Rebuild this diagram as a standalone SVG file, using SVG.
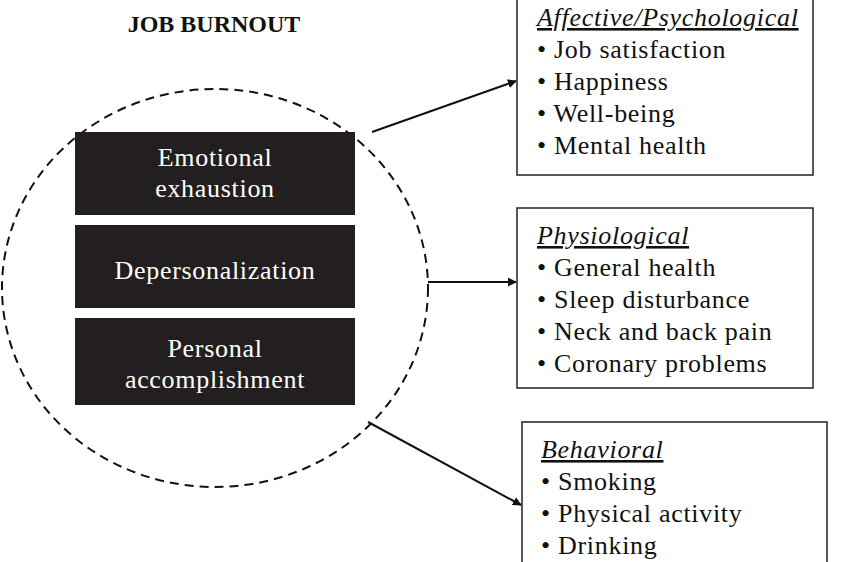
<svg xmlns="http://www.w3.org/2000/svg" width="850" height="562" viewBox="0 0 850 562">
<defs>
<style>
.t{font-family:"Liberation Serif","DejaVu Serif",serif;font-size:26px;letter-spacing:0.7px;fill:#111}
.w{font-family:"Liberation Serif","DejaVu Serif",serif;font-size:26px;letter-spacing:0.7px;fill:#fff;text-anchor:middle}
.h{font-style:italic;text-decoration:underline}
.box{fill:#fff;stroke:#222;stroke-width:1.5}
.blk{fill:#231f20}
.c{stroke:#111;stroke-width:2;fill:none;marker-end:url(#a)}
</style>
<marker id="a" viewBox="0 0 10 10" refX="9" refY="5" markerWidth="9" markerHeight="9" markerUnits="userSpaceOnUse" orient="auto"><path d="M0,0L10,5L0,10z" fill="#111"/></marker>
</defs>
<rect width="850" height="562" fill="#fff"/>
<g id="burnout">
<text x="214" y="32" style="font-family:'Liberation Serif',serif;font-size:24px;font-weight:bold;text-anchor:middle;fill:#111">JOB BURNOUT</text>
<ellipse cx="215" cy="288" rx="213" ry="199" fill="none" stroke="#111" stroke-width="2" stroke-dasharray="9,6"/>
</g>
<g id="emotional"><rect class="blk" x="75" y="132" width="280" height="83"/><text class="w" x="215" y="166">Emotional</text><text class="w" x="215" y="197">exhaustion</text></g>
<g id="depersonalization"><rect class="blk" x="75" y="225" width="280" height="83"/><text class="w" x="215" y="279">Depersonalization</text></g>
<g id="accomplishment"><rect class="blk" x="75" y="318" width="280" height="87"/><text class="w" x="215" y="357">Personal</text><text class="w" x="215" y="388">accomplishment</text></g>
<g id="affective"><rect class="box" x="517" y="-2" width="296" height="177"/>
<text class="t h" x="537" y="26">Affective/Psychological</text>
<text class="t" x="537" y="58">• Job satisfaction</text>
<text class="t" x="537" y="90">• Happiness</text>
<text class="t" x="537" y="122">• Well-being</text>
<text class="t" x="537" y="154">• Mental health</text></g>
<g id="physiological"><rect class="box" x="517" y="208" width="296" height="180"/>
<text class="t h" x="537" y="244">Physiological</text>
<text class="t" x="537" y="276">• General health</text>
<text class="t" x="537" y="308">• Sleep disturbance</text>
<text class="t" x="537" y="340">• Neck and back pain</text>
<text class="t" x="537" y="372">• Coronary problems</text></g>
<g id="behavioral"><rect class="box" x="522" y="422" width="305" height="150"/>
<text class="t h" x="541" y="458">Behavioral</text>
<text class="t" x="541" y="490">• Smoking</text>
<text class="t" x="541" y="522">• Physical activity</text>
<text class="t" x="541" y="554">• Drinking</text></g>
<g id="connectors">
<path class="c" d="M372,132L516,81"/>
<path class="c" d="M428,282L516,282"/>
<path class="c" d="M368,422L521,505"/>
</g>
</svg>
